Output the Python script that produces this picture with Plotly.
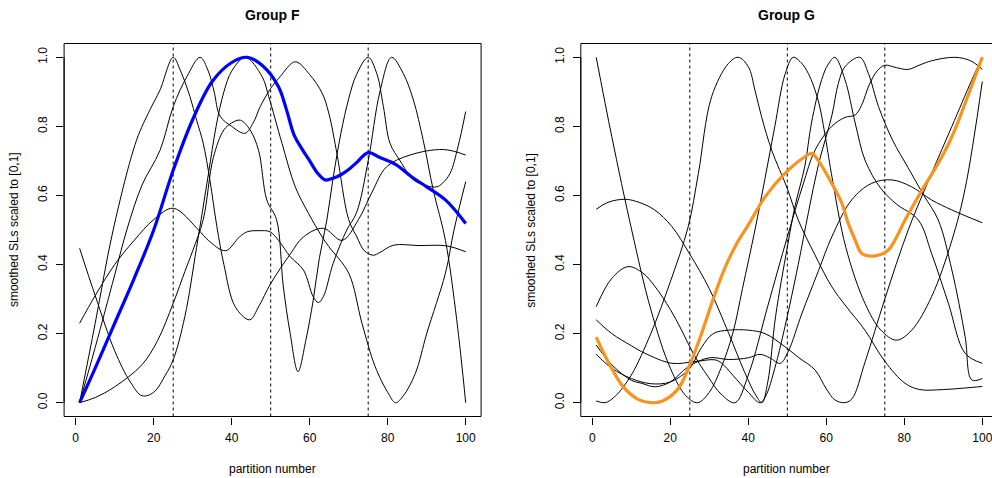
import plotly.graph_objects as go

W, H = 992, 478

# ---------------- data ----------------
x_ticks = [0, 20, 40, 60, 80, 100]
y_ticks = [0.0, 0.2, 0.4, 0.6, 0.8, 1.0]
y_tick_labels = ["0.0", "0.2", "0.4", "0.6", "0.8", "1.0"]
partition_marks = [25, 50, 75]

# Group F (left)
f_hl_x = [1, 5, 10, 15, 20, 25, 30, 35, 40, 44, 48, 52, 54, 56, 58, 60, 62, 64, 66, 68, 70, 72, 75, 78, 82, 86, 90, 95, 100]
f_hl_y = [0, 0.10, 0.23, 0.36, 0.50, 0.673, 0.82, 0.93, 0.985, 1.0, 0.975, 0.915, 0.85, 0.775, 0.735, 0.70, 0.665, 0.645, 0.65, 0.66, 0.675, 0.695, 0.724, 0.71, 0.69, 0.655, 0.625, 0.585, 0.519]

f1_x = [1, 5, 9.6, 15.6, 19, 21.6, 25, 26.8, 29.3, 31, 32.7, 34.4, 36.2, 38, 40.9, 44.6, 47, 50, 55, 58.4, 63.5, 68.3, 72.5, 76, 79.7, 85.7, 94.3, 100]
f1_y = [0, 0.23, 0.5, 0.76, 0.847, 0.905, 1.0, 0.963, 0.886, 0.818, 0.751, 0.645, 0.51, 0.40, 0.278, 0.24, 0.28, 0.345, 0.43, 0.48, 0.505, 0.47, 0.53, 0.61, 0.683, 0.717, 0.733, 0.717]

f2_x = [1, 5, 10, 13.1, 17, 21.6, 25, 28.5, 31.9, 34, 35.5, 37, 40, 43.4, 45.5, 47.3, 50, 52.4, 56.3, 60, 63.2, 64.9, 67, 70, 72.1, 74, 76.3, 78, 81.5, 88, 95.1, 100]
f2_y = [0, 0.16, 0.37, 0.5, 0.63, 0.73, 0.857, 0.944, 1.0, 0.96, 0.9, 0.83, 0.80, 0.78, 0.81, 0.857, 0.91, 0.944, 0.987, 0.95, 0.896, 0.838, 0.72, 0.53, 0.48, 0.44, 0.427, 0.435, 0.456, 0.455, 0.454, 0.437]

f3_x = [1, 5, 10, 17, 21, 25, 28, 30, 32.7, 35.3, 38, 40, 42.2, 44.7, 46.9, 49, 51.5, 53.2, 55, 57, 59, 60.9, 62.5, 64.4, 66, 68, 70, 72, 75, 77.2, 78.9, 80.6, 83.2, 86.6, 90, 92.6, 94, 96, 98, 100]
f3_y = [0, 0.015, 0.046, 0.11, 0.18, 0.288, 0.38, 0.44, 0.53, 0.71, 0.79, 0.81, 0.818, 0.79, 0.73, 0.587, 0.53, 0.34, 0.2, 0.09, 0.18, 0.297, 0.42, 0.529, 0.65, 0.78, 0.88, 0.95, 1.0, 0.953, 0.857, 0.751, 0.70, 0.645, 0.628, 0.625, 0.635, 0.664, 0.74, 0.843]

f4_x = [1, 5, 10, 14, 17, 20, 23, 25, 28, 31, 34, 36, 38, 40, 43.5, 47.8, 49.5, 52.9, 56.3, 59.7, 63.2, 64.9, 70, 73.4, 76.8, 80, 82, 84, 87.1, 90, 94.8, 97, 100]
f4_y = [0.447, 0.31, 0.15, 0.06, 0.02, 0.03, 0.08, 0.124, 0.25, 0.45, 0.66, 0.80, 0.90, 0.96, 1.0, 0.944, 0.886, 0.751, 0.625, 0.548, 0.48, 0.452, 0.375, 0.23, 0.104, 0.03, 0.0, 0.02, 0.085, 0.2, 0.375, 0.5, 0.64]

f5_x = [1, 5, 10, 15, 20, 25, 31.5, 34, 38.4, 42, 44, 47, 49.8, 52, 55, 58.4, 60.9, 62.2, 63.5, 66, 69.5, 72, 75, 78, 81, 84, 86.6, 89.1, 91.7, 94.8, 97.7, 100]
f5_y = [0.23, 0.31, 0.40, 0.47, 0.53, 0.563, 0.5, 0.47, 0.44, 0.48, 0.495, 0.498, 0.495, 0.47, 0.423, 0.384, 0.307, 0.29, 0.307, 0.403, 0.5, 0.55, 0.70, 0.90, 1.0, 0.953, 0.876, 0.76, 0.615, 0.47, 0.24, 0.0]

# Group G (right)
g_hl_x = [1, 4, 8, 12, 15, 18, 22, 25, 28, 31, 34, 37, 40, 44.3, 49.4, 54.5, 56.3, 58, 61.4, 64, 65.6, 67.4, 69.1, 72.5, 75.9, 80.2, 84.5, 88.7, 92.2, 95.6, 100]
g_hl_y = [0.19, 0.12, 0.045, 0.008, 0.0, 0.005, 0.04, 0.11, 0.2, 0.3, 0.39, 0.46, 0.515, 0.596, 0.664, 0.712, 0.722, 0.7, 0.635, 0.577, 0.52, 0.471, 0.432, 0.425, 0.442, 0.529, 0.615, 0.693, 0.77, 0.867, 1.0]

g1_x = [1, 5, 10.1, 15, 20, 24, 27, 30, 33, 36, 38.5, 41.7, 44.3, 46.8, 49.4, 51.5, 53.5, 55.4, 57.9, 59.6, 61.3, 65, 69.9, 74, 78, 81.9, 87, 92.2, 95.6, 100]
g1_y = [1.0, 0.77, 0.5, 0.27, 0.1, 0.02, 0.0, 0.03, 0.1, 0.2, 0.33, 0.5, 0.65, 0.8, 0.95, 1.0, 0.985, 0.953, 0.876, 0.78, 0.664, 0.45, 0.288, 0.21, 0.181, 0.21, 0.307, 0.47, 0.62, 0.93]

g2_x = [1, 4, 8.4, 12, 16, 20.4, 25, 30, 35, 39, 42, 43.5, 45, 47, 50, 52, 54.5, 56.2, 58.8, 60.5, 62.2, 64.8, 67.4, 70, 74, 78, 83.6, 87, 91.3, 95.6, 100]
g2_y = [0.56, 0.58, 0.589, 0.58, 0.558, 0.51, 0.43, 0.33, 0.2, 0.09, 0.02, 0.0, 0.06, 0.25, 0.45, 0.57, 0.685, 0.81, 0.935, 0.98, 1.0, 0.935, 0.81, 0.7, 0.62, 0.575, 0.529, 0.432, 0.288, 0.143, 0.114]

g3_x = [1, 5, 9.2, 13, 16.1, 20, 22.9, 26, 29.7, 33, 36.6, 40, 45, 50, 54, 57.1, 61.4, 64.8, 67.4, 69, 71, 73, 75, 78, 81, 84, 87, 93, 97, 100]
g3_y = [0.278, 0.36, 0.394, 0.375, 0.336, 0.27, 0.21, 0.14, 0.075, 0.025, 0.0, 0.08, 0.28, 0.48, 0.63, 0.731, 0.8, 0.826, 0.833, 0.86, 0.92, 0.96, 0.977, 0.97, 0.965, 0.978, 0.99, 1.0, 0.99, 0.965]

g4_x = [1, 5, 10, 13.5, 20.4, 26.3, 31.5, 33.2, 36, 40, 43, 44.5, 46.8, 49.4, 52.8, 55.4, 58, 61.4, 63.1, 64.8, 68.6, 70.8, 73.4, 77, 81, 85, 88.7, 92.2, 95.6, 97.3, 100]
g4_y = [0.24, 0.2, 0.165, 0.143, 0.114, 0.119, 0.124, 0.114, 0.08, 0.03, 0.0, 0.02, 0.1, 0.22, 0.4, 0.55, 0.69, 0.83, 0.925, 0.973, 1.0, 0.953, 0.857, 0.76, 0.68, 0.6, 0.529, 0.384, 0.191, 0.066, 0.07]

g5_x = [1, 5, 10, 12.7, 16.1, 20, 24.6, 30, 35, 40, 43, 45.5, 48.2, 50.3, 53.7, 58, 61.4, 66.5, 71.6, 76.8, 81.9, 87, 92.2, 100]
g5_y = [0.167, 0.11, 0.065, 0.056, 0.046, 0.06, 0.104, 0.13, 0.125, 0.13, 0.14, 0.13, 0.114, 0.15, 0.257, 0.382, 0.48, 0.587, 0.635, 0.645, 0.625, 0.587, 0.558, 0.521]

g6_x = [1, 5, 10, 15, 20, 25, 28, 31, 35, 40, 44.3, 49.4, 53, 57.1, 60, 62.2, 64.5, 66.5, 70, 75, 81, 87, 92.2, 97.3, 100]
g6_y = [0.14, 0.1, 0.07, 0.055, 0.06, 0.1, 0.16, 0.2, 0.21, 0.21, 0.2, 0.162, 0.13, 0.095, 0.04, 0.008, 0.0, 0.01, 0.12, 0.3, 0.5, 0.664, 0.8, 0.934, 1.0]

g7_x = [1, 3.3, 6, 10, 15, 20, 24.6, 27.2, 30.6, 34.9, 37.4, 40, 41.7, 43.4, 46, 50, 52.8, 57, 61.4, 65, 69.9, 75, 80.2, 84, 90, 95, 100]
g7_y = [0.005, 0.0, 0.02, 0.08, 0.2, 0.35, 0.51, 0.664, 0.886, 0.982, 1.0, 0.973, 0.905, 0.828, 0.731, 0.62, 0.529, 0.43, 0.336, 0.28, 0.21, 0.12, 0.056, 0.038, 0.038, 0.042, 0.047]

groups = [
    dict(title="Group F", color="#0000FF",
         lines=[(f1_x, f1_y), (f2_x, f2_y), (f3_x, f3_y), (f4_x, f4_y), (f5_x, f5_y)],
         hl=(f_hl_x, f_hl_y)),
    dict(title="Group G", color="#F7931E",
         lines=[(g1_x, g1_y), (g2_x, g2_y), (g3_x, g3_y), (g4_x, g4_y), (g5_x, g5_y), (g6_x, g6_y), (g7_x, g7_y)],
         hl=(g_hl_x, g_hl_y)),
]

# ---------------- layout geometry (pixels) ----------------
PX_PER_X = 3.9
panels = [dict(left=64.1, right=481.1, x0px=75.7), dict(left=580.8, right=992.0, x0px=592.3)]
top_px, bot_px = 43.5, 416.5
xlabel_px = 439
strip_top_px = 424          # strip below each panel that carries the x tick labels
FONT = "Liberation Sans, Arial, Helvetica, sans-serif"

fig = go.Figure()
layout = dict(width=W, height=H, margin=dict(l=0, r=0, t=0, b=0), autosize=False,
              paper_bgcolor="white", plot_bgcolor="rgba(0,0,0,0)", showlegend=False,
              font=dict(family=FONT, size=12, color="black"))
shapes, annotations = [], []

for i, (g, p) in enumerate(zip(groups, panels)):
    sfx = "" if i == 0 else str(i + 1)
    xa, ya = "x" + sfx, "y" + sfx
    lab_ya_name = "y" + str(i + 3)            # helper axis for the tick-label strip
    xmin = (p["left"] - p["x0px"]) / PX_PER_X
    xmax = (p["right"] - p["x0px"]) / PX_PER_X
    layout["xaxis" + sfx] = dict(domain=[p["left"] / W, p["right"] / W], range=[xmin, xmax],
                                 anchor=ya, showgrid=False, zeroline=False, showline=False,
                                 ticks="outside", ticklen=7, tickwidth=1, tickcolor="black",
                                 tickvals=x_ticks, showticklabels=False)
    layout["yaxis" + sfx] = dict(domain=[1 - bot_px / H, 1 - top_px / H], range=[-0.04, 1.04],
                                 anchor=xa, showgrid=False, zeroline=False, showline=False,
                                 ticks="outside", ticklen=7, tickwidth=1, tickcolor="black",
                                 tickvals=y_ticks, ticktext=y_tick_labels, tickangle=-90,
                                 tickfont=dict(size=12), ticklabelstandoff=4)
    layout["yaxis" + str(i + 3)] = dict(domain=[0, 1 - strip_top_px / H], range=[H, strip_top_px],
                                        anchor=xa, visible=False, fixedrange=True)
    # x tick labels: text trace placed on the x axis scale, in the strip below the panel
    fig.add_trace(go.Scatter(x=x_ticks, y=[xlabel_px] * len(x_ticks), mode="text",
                             text=[str(v) for v in x_ticks], textposition="middle center",
                             textfont=dict(size=12, color="black", family=FONT),
                             xaxis=xa, yaxis=lab_ya_name, cliponaxis=False, hoverinfo="skip"))
    # box
    shapes.append(dict(type="rect", xref=xa + " domain", yref=ya + " domain",
                       x0=0, x1=1 if i == 0 else 1.02, y0=0, y1=1,
                       line=dict(color="black", width=1), layer="above"))
    # axis lines from first to last tick
    shapes.append(dict(type="line", xref=xa, yref=ya + " domain", x0=x_ticks[0], x1=x_ticks[-1],
                       y0=0, y1=0, line=dict(color="black", width=1)))
    shapes.append(dict(type="line", xref=xa + " domain", yref=ya, x0=0, x1=0,
                       y0=y_ticks[0], y1=y_ticks[-1], line=dict(color="black", width=1)))
    for m in partition_marks:
        shapes.append(dict(type="line", xref=xa, yref=ya + " domain", x0=m, x1=m, y0=0, y1=1,
                           line=dict(color="black", width=1, dash="3px,3px"), layer="below"))
    for lx, ly in g["lines"]:
        fig.add_trace(go.Scatter(x=lx, y=ly, mode="lines", xaxis=xa, yaxis=ya,
                                 line=dict(color="black", width=1, shape="spline", smoothing=1.0),
                                 hoverinfo="skip"))
    hx, hy = g["hl"]
    fig.add_trace(go.Scatter(x=hx, y=hy, mode="lines", xaxis=xa, yaxis=ya,
                             line=dict(color=g["color"], width=3.2, shape="spline", smoothing=1.0),
                             hoverinfo="skip"))
    cx = (p["left"] + min(p["right"], p["left"] + 417)) / 2
    annotations.append(dict(text="<b>" + g["title"] + "</b>", xref="paper", yref="paper",
                            x=cx / W, y=1 - 15 / H, showarrow=False, font=dict(size=14),
                            xanchor="center", yanchor="middle"))
    annotations.append(dict(text="partition number", xref="paper", yref="paper",
                            x=cx / W, y=1 - 469 / H, showarrow=False, font=dict(size=12),
                            xanchor="center", yanchor="middle"))
    annotations.append(dict(text="smoothed SLs scaled to [0,1]", xref="paper", yref="paper",
                            x=(p["left"] - 50) / W, y=1 - 230 / H, showarrow=False,
                            textangle=-90, font=dict(size=12), xanchor="center", yanchor="middle"))

layout["shapes"] = shapes
layout["annotations"] = annotations
fig.update_layout(**layout)
fig.write_html("out.html")
